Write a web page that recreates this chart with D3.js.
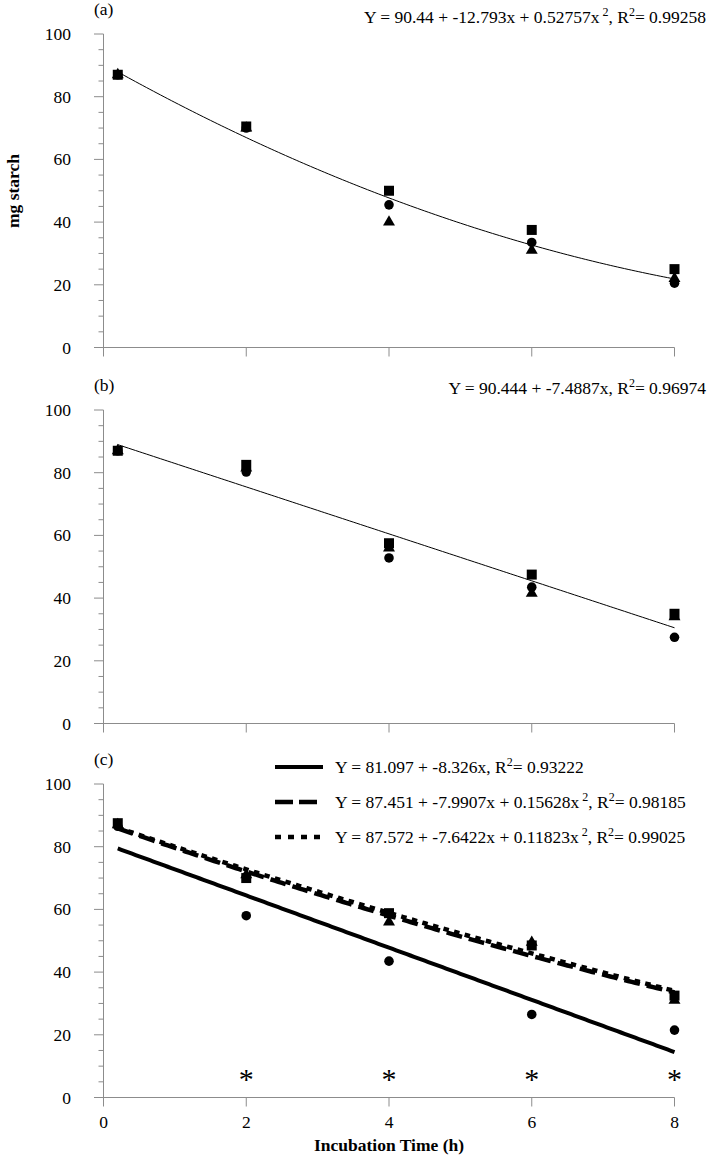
<!DOCTYPE html>
<html><head><meta charset="utf-8">
<script src="https://cdn.jsdelivr.net/npm/d3@7"></script>
<style>body{margin:0;background:#fff}svg{display:block}text{font-family:"Liberation Serif","Times New Roman",serif;fill:#000}</style>
</head><body>
<svg id="chart" width="712" height="1157"></svg>
<script>
// ---- data ----
const xVals = [0.2, 2, 4, 6, 8];
const xTicks = [0, 2, 4, 6, 8];
const yTicks = [0, 20, 40, 60, 80, 100];
const aSquare = [87, 70.5, 50, 37.5, 25];
const aCircle = [87, 70, 45.5, 33.5, 20.5];
const aTriangle = [87, 70, 40, 31, 22];
const bSquare = [87, 82.5, 57.5, 47.5, 35];
const bCircle = [87, 80.2, 52.8, 43.5, 27.5];
const bTriangle = [87, 81.5, 56, 41.5, 34];
const cSquare = [87.5, 70, 58.8, 48.5, 32.5];
const cCircle = [86.5, 58, 43.5, 26.5, 21.5];
const cTriangle = [87, 71, 56, 49.5, 31];
const asteriskX = [2, 4, 6, 8];
const asteriskY = 7.7;
// fitted coefficients [a, b, c] for a + b x + c x^2
const fitA = [90.44, -12.793, 0.52757];
const fitB = [90.444, -7.4887, 0];
const fitCsolid = [81.097, -8.326, 0];
const fitCdash = [87.451, -7.9907, 0.15628];
const fitCdot = [87.572, -7.6422, 0.11823];
const panelLabels = ["(a)", "(b)", "(c)"];

const svg = d3.select("#chart");
const x = d3.scaleLinear().domain([0, 8]).range([103.5, 674.5]);
const axisColor = "#8c8c8c";
const panelTops = [34, 410, 784];
const panelH = 313.5;

function fitPts(c) {
  return d3.range(0.2, 8.0001, 0.05).map(v => [v, c[0] + c[1]*v + c[2]*v*v]);
}

function drawPanel(i, series, fits) {
  const top = panelTops[i];
  const y = d3.scaleLinear().domain([0, 100]).range([top + panelH, top]);
  const g = svg.append("g");
  g.append("line").attr("x1", x(0)).attr("x2", x(0)).attr("y1", y(100)).attr("y2", y(0) + 9)
    .attr("stroke", axisColor);
  g.append("line").attr("x1", x(0) - 9.5).attr("x2", x(8)).attr("y1", y(0)).attr("y2", y(0))
    .attr("stroke", axisColor);
  d3.range(5, 101, 5).forEach(v => {
    const major = v % 20 === 0;
    g.append("line").attr("x1", x(0) - (major ? 9.5 : 5)).attr("x2", x(0))
      .attr("y1", y(v)).attr("y2", y(v)).attr("stroke", axisColor);
  });
  xTicks.slice(1).forEach(v => {
    g.append("line").attr("x1", x(v)).attr("x2", x(v)).attr("y1", y(0)).attr("y2", y(0) + 9)
      .attr("stroke", axisColor);
  });
  yTicks.forEach(v => {
    g.append("text").attr("x", 71).attr("y", y(v) + 6).attr("text-anchor", "end")
      .attr("font-size", 17.5).text(v);
  });
  g.append("text").attr("x", 94).attr("y", top - 19).attr("font-size", 17.5).text(panelLabels[i]);

  const line = d3.line().x(d => x(d[0])).y(d => y(d[1]));
  fits.forEach(f => {
    g.append("path").attr("d", line(fitPts(f.c))).attr("fill", "none")
      .attr("stroke", "#000").attr("stroke-width", f.w)
      .attr("stroke-dasharray", f.dash || null);
  });

  const sq = d3.symbol().type(d3.symbolSquare).size(100);
  const ci = d3.symbol().type(d3.symbolCircle).size(72);
  const tr = d3.symbol().type(d3.symbolTriangle).size(62);
  [[series[0], sq], [series[1], ci], [series[2], tr]].forEach(([vals, sym]) => {
    g.selectAll(null).data(vals).join("path")
      .attr("transform", (d, j) => `translate(${x(xVals[j])},${y(d)})`)
      .attr("d", sym()).attr("fill", "#000");
  });
  return {g, y};
}

function eq(g, xPos, yPos, anchor, parts) {
  const t = g.append("text").attr("x", xPos).attr("y", yPos).attr("text-anchor", anchor)
    .attr("font-size", 17.5).attr("xml:space", "preserve");
  let raised = false;
  parts.forEach(p => {
    if (typeof p === "string") {
      const s = t.append("tspan").text(p);
      if (raised) { s.attr("dy", 7); raised = false; }
    } else {
      t.append("tspan").attr("dy", -7).attr("font-size", 12).text(p.sup);
      raised = true;
    }
  });
  return t;
}

const pa = drawPanel(0, [aSquare, aCircle, aTriangle], [{c: fitA, w: 1}]);
eq(pa.g, 706, 23, "end", ["Y = 90.44 + -12.793x + 0.52757x", {sup: " 2"}, ", R", {sup: "2"}, "= 0.99258"]);
const pb = drawPanel(1, [bSquare, bCircle, bTriangle], [{c: fitB, w: 1}]);
eq(pb.g, 706, 394, "end", ["Y = 90.444 + -7.4887x, R", {sup: "2"}, "= 0.96974"]);

const fitsC = [
  {c: fitCsolid, w: 4, legDash: null, legEnd: 323, label: ["Y = 81.097 + -8.326x, R", {sup: "2"}, "= 0.93222"]},
  {c: fitCdash, w: 4.5, dash: "16 7", legDash: "18 6", legEnd: 317, label: ["Y = 87.451 + -7.9907x + 0.15628x", {sup: " 2"}, ", R", {sup: "2"}, "= 0.98185"]},
  {c: fitCdot, w: 4.5, dash: "5.5 5.5", legDash: "6 7", legEnd: 320, label: ["Y = 87.572 + -7.6422x + 0.11823x", {sup: " 2"}, ", R", {sup: "2"}, "= 0.99025"]}
];
const pc = drawPanel(2, [cSquare, cCircle, cTriangle], fitsC);
const legY = [767, 802, 837];
fitsC.forEach((f, k) => {
  pc.g.append("line").attr("x1", 275).attr("x2", f.legEnd).attr("y1", legY[k]).attr("y2", legY[k])
    .attr("stroke", "#000").attr("stroke-width", f.w).attr("stroke-dasharray", f.legDash);
  eq(pc.g, 335, legY[k] + 6, "start", f.label);
});
pc.g.selectAll(null).data(asteriskX).join("text")
  .attr("x", d => x(d)).attr("y", pc.y(asteriskY) + 16).attr("text-anchor", "middle")
  .attr("font-size", 30).text("*");
xTicks.forEach(v => {
  svg.append("text").attr("x", x(v)).attr("y", 1128).attr("text-anchor", "middle")
    .attr("font-size", 17.5).text(v);
});
svg.append("text").attr("x", 389).attr("y", 1151).attr("text-anchor", "middle")
  .attr("font-size", 17.5).attr("font-weight", "bold").text("Incubation Time (h)");
svg.append("text").attr("transform", "translate(19,191) rotate(-90)").attr("text-anchor", "middle")
  .attr("font-size", 17.5).attr("font-weight", "bold").text("mg starch");
</script>
</body></html>
